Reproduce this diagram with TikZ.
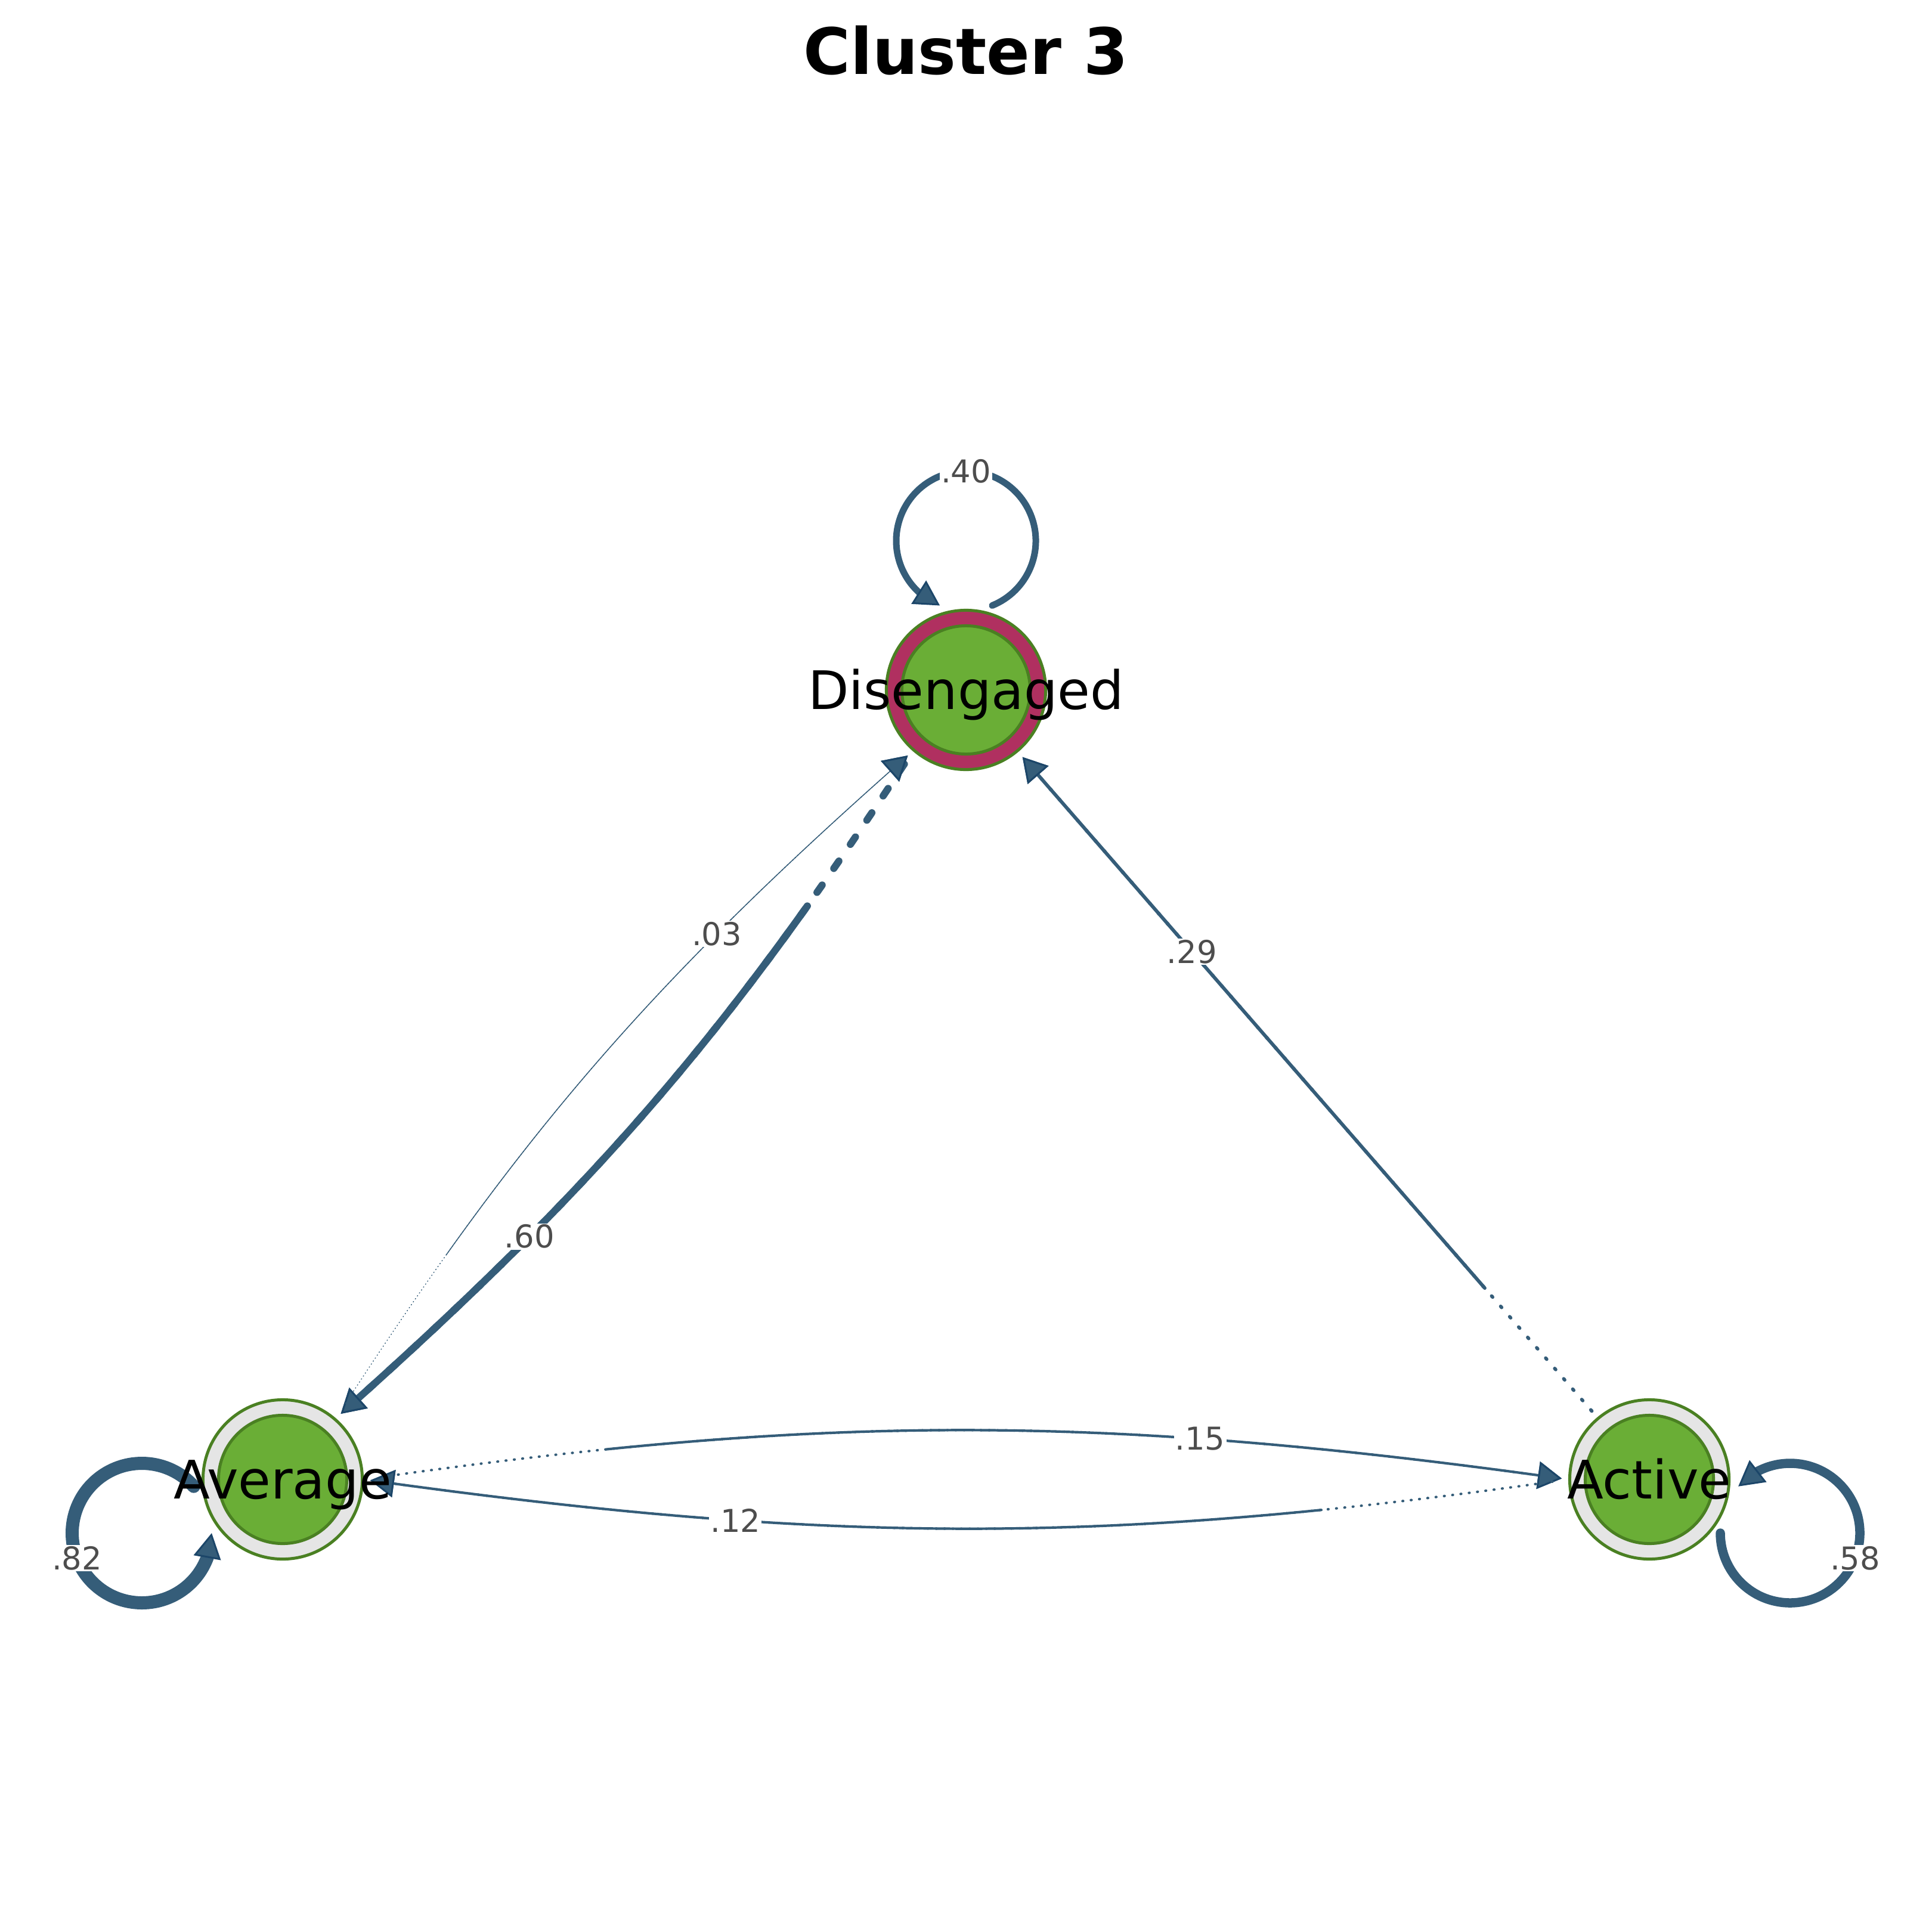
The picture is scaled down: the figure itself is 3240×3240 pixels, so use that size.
\documentclass[tikz,border=0pt]{standalone}
\usepackage{fontspec}
\setmainfont{DejaVu Sans}
\usetikzlibrary{arrows.meta,bending}
\definecolor{edgecol}{HTML}{355D79}
\definecolor{arrowdark}{HTML}{1C4669}
\definecolor{ringred}{HTML}{B03060}
\definecolor{ringgray}{HTML}{E5E5E5}
\definecolor{nodegreen}{HTML}{6AAE36}
\definecolor{bordergreen}{HTML}{4A8022}
\definecolor{labgray}{HTML}{4D4D4D}
\begin{document}
\begin{tikzpicture}[x=0.01cm,y=0.01cm,
  outerc/.style={circle, minimum size=2.67cm, inner sep=0pt, draw=bordergreen, line width=0.05cm},
  innerc/.style={circle, minimum size=2.15cm, inner sep=0pt, draw=bordergreen, fill=nodegreen, line width=0.05cm},
  statetext/.style={font=\fontsize{25.3}{30}\selectfont, text=black, anchor=base, inner sep=0pt},
  lab/.style={font=\fontsize{15}{18}\selectfont, text=labgray, fill=white, inner sep=0.6pt},
  edge/.style={draw=edgecol, line cap=round, -{Triangle[length=0.40cm,width=0.46cm,line width=0.03cm,color=arrowdark,fill=edgecol]}},
  loopedge/.style={draw=edgecol, line cap=round, -{Triangle[length=0.42cm,width=0.46cm,line width=0.03cm,color=arrowdark,fill=edgecol]}}
]
\useasboundingbox (0,0) rectangle (3240,-3240);
\fill[white] (0,0) rectangle (3240,-3240);

% title
\node[font=\fontsize{30.5}{36}\selectfont\bfseries, anchor=base, inner sep=0pt] (title) at (1620,-125) {Cluster 3};

% states
\node[outerc, fill=ringred] (ds) at (1620,-1157) {};
\node[innerc] (dsi) at (ds.center) {};
\node[outerc, fill=ringgray] (av) at (474,-2481) {};
\node[innerc] (avi) at (av.center) {};
\node[outerc, fill=ringgray] (ac) at (2766,-2481) {};
\node[innerc] (aci) at (ac.center) {};

% self loops
\draw[loopedge, line width=0.11cm] (ds.center) ++(0,250) ++(292:117) arc[start angle=292, end angle=608, radius=117];
\path (ds.center) ++(0,367) coordinate (l40);
\draw[loopedge, line width=0.22cm] (av.center) ++(-236,-90) ++(42:117) arc[start angle=42, end angle=360, radius=117];
\path (av.center) ++(-345,-132) coordinate (l82);
\draw[loopedge, line width=0.155cm] (ac.center) ++(236,-90) ++(180:117) arc[start angle=180, end angle=498, radius=117];
\path (ac.center) ++(345,-132) coordinate (l58);

% Active -> Disengaged .29
\draw[edge, line width=0.058cm, dash pattern=on 0.025cm off 0.205cm, shorten <=0.14cm, shorten >=0.11cm] (ac.130.88) -- (ds.310.88);
\draw[edge, line width=0.058cm, dash pattern=on 0pt off 2.73cm on 200cm off 1cm, shorten <=0.14cm, shorten >=0.11cm] (ac.130.88) -- (ds.310.88) coordinate[pos=0.7] (l29);

% Disengaged -> Average .60
\draw[edge, line width=0.12cm, dash pattern=on 0.15cm off 0.34cm, shorten <=0.26cm, shorten >=0.11cm] (ds.229.12) to[bend left=7.5] (av.49.12);
\draw[edge, line width=0.12cm, dash pattern=on 0pt off 2.88cm on 200cm off 1cm, shorten <=0.26cm, shorten >=0.11cm] (ds.229.12) to[bend left=7.5] coordinate[pos=0.715] (l60) (av.49.12);

% Average -> Disengaged .03
\draw[edge, line width=0.015cm, dash pattern=on 0.01cm off 0.05cm, shorten <=0.30cm, shorten >=0.11cm] (av.49.12) to[bend left=7.8] (ds.229.12);
\draw[edge, line width=0.015cm, dash pattern=on 0pt off 3.0cm on 200cm off 1cm, shorten <=0.30cm, shorten >=0.11cm] (av.49.12) to[bend left=7.8] coordinate[pos=0.712] (l03) (ds.229.12);

% Average -> Active .15
\draw[edge, line width=0.042cm, dash pattern=on 0.01cm off 0.13cm, shorten <=0.30cm, shorten >=0.11cm] (av.0) to[bend left=8] (ac.180);
\draw[edge, line width=0.042cm, dash pattern=on 0pt off 3.8cm on 200cm off 1cm, shorten <=0.30cm, shorten >=0.11cm] (av.0) to[bend left=8] coordinate[pos=0.708] (l15) (ac.180);

% Active -> Average .12
\draw[edge, line width=0.042cm, dash pattern=on 0.01cm off 0.13cm, shorten <=0.27cm, shorten >=0.11cm] (ac.180) to[bend left=8] (av.0);
\draw[edge, line width=0.042cm, dash pattern=on 0pt off 3.9cm on 200cm off 1cm, shorten <=0.27cm, shorten >=0.11cm] (ac.180) to[bend left=8] coordinate[pos=0.705] (l12) (av.0);

% edge labels
\node[lab] (t40) at (l40) {.40};
\node[lab] (t82) at (l82) {.82};
\node[lab] (t58) at (l58) {.58};
\node[lab] (t29) at (l29) {.29};
\node[lab] (t60) at (l60) {.60};
\node[lab] (t03) at (l03) {.03};
\node[lab] (t15) at (l15) {.15};
\node[lab] (t12) at (l12) {.12};

% state names
\node[statetext] (dst) at ([yshift=-9.2pt]ds.center) {Disengaged};
\node[statetext] (avt) at ([yshift=-9.2pt]av.center) {Average};
\node[statetext] (act) at ([yshift=-9.2pt]ac.center) {Active};
\end{tikzpicture}
\end{document}
